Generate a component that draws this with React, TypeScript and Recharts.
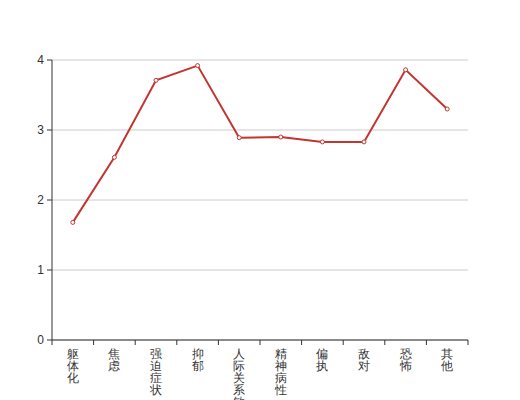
import { LineChart, Line, XAxis, YAxis, CartesianGrid } from "recharts";

const categories = ["躯体化", "焦虑", "强迫症状", "抑郁", "人际关系敏感", "精神病性", "偏执", "敌对", "恐怖", "其他"];
const scores = [1.68, 2.61, 3.71, 3.92, 2.89, 2.9, 2.83, 2.83, 3.86, 3.3];
const yTicks = [0, 1, 2, 3, 4];

const axisColor = "#333";
const lineColor = "#c23531";

function CategoryTick(props: any) {
  const { x, y, payload, index, visibleTicksCount } = props;
  const half = payload.offset ?? 0;
  const chars = String(payload.value).split("");
  const isLast = index === visibleTicksCount - 1;
  return (
    <g>
      <line x1={x - half} x2={x - half} y1={y} y2={y + 5} stroke={axisColor} />
      {isLast && <line x1={x + half} x2={x + half} y1={y} y2={y + 5} stroke={axisColor} />}
      <text x={x} y={y} textAnchor="middle" fill={axisColor} fontSize={12}>
        {chars.map((c, i) => (
          <tspan key={i} x={x} dy={i === 0 ? 18 : 12}>
            {c}
          </tspan>
        ))}
      </text>
    </g>
  );
}

export default function App() {
  const data = categories.map((name, i) => ({ name, value: scores[i] }));

  return (
    <div style={{ fontFamily: "sans-serif" }}>
      <LineChart width={512} height={392} data={data} margin={{ top: 52, right: 52, left: 0, bottom: 0 }}>
        <CartesianGrid vertical={false} stroke="#ccc" />
        <XAxis
          dataKey="name"
          type="category"
          scale="band"
          interval={0}
          height={60}
          tickLine={false}
          tickSize={0}
          tickMargin={0}
          axisLine={{ stroke: axisColor }}
          tick={<CategoryTick />}
        />
        <YAxis
          width={44}
          domain={[0, 4]}
          ticks={yTicks}
          tickSize={5}
          tickMargin={3}
          axisLine={{ stroke: axisColor }}
          tickLine={{ stroke: axisColor }}
          tick={{ fontSize: 12, fill: axisColor }}
        />
        <Line
          type="linear"
          dataKey="value"
          stroke={lineColor}
          strokeWidth={2}
          dot={{ r: 2, fill: "#fff", stroke: lineColor, strokeWidth: 1 }}
          activeDot={false}
          isAnimationActive={false}
        />
      </LineChart>
    </div>
  );
}
